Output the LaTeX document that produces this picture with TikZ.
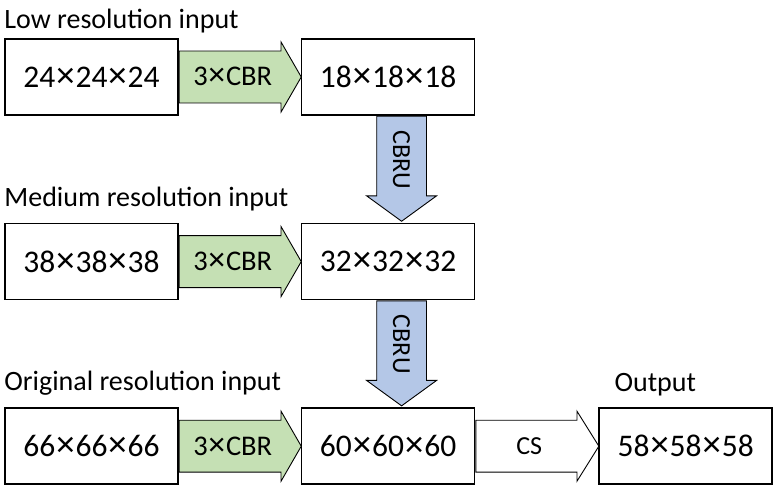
\documentclass[tikz,border=0pt]{standalone}
\usepackage{fontspec}
\setmainfont{Carlito}
\newfontfamily\crossfont[Scale=1.1]{Liberation Sans}
\newcommand\dimx{{\crossfont ×}}
\usetikzlibrary{positioning, shapes.arrows}
\definecolor{convgreen}{HTML}{C5E0B4}
\definecolor{upblue}{HTML}{B4C7E7}
\tikzset{
x=1pt, y=-1pt, % pixel-like units
every node/.style={inner sep=0pt},
block/.style={draw, line width=1.6pt, minimum width=173pt, minimum height=76pt, font=\fontsize{31.5}{36}\selectfont}, % the feature map boxes
caption/.style={anchor=base west, font=\fontsize{28}{32}\selectfont}, % the texts above the boxes
fatarrow/.style={single arrow, draw, line width=0.9pt, font=\fontsize{26}{30}\selectfont,
  text height=18pt, text depth=1pt, inner ysep=10.5pt, inner xsep=4pt,
  minimum width=70pt, single arrow head indent=0pt, anchor=tail},
convarrow/.style={fatarrow, fill=convgreen, minimum height=122pt, single arrow tip angle=120,
  font=\fontsize{28.5}{32}\selectfont, text height=20pt, text depth=2pt, inner ysep=9pt},
outarrow/.style={fatarrow, fill=white, minimum height=123pt, single arrow tip angle=116},
uparrow/.style={fatarrow, fill=upblue, rotate=-90, minimum height=105pt,
  inner ysep=7.5pt, single arrow tip angle=108},
}
\begin{document}
\begin{tikzpicture}
    \useasboundingbox (0,0) rectangle (775,486);
    % boxes
    \node[block] (low) at (91.5,77) {24\dimx24\dimx24};
    \node[block, right=122pt of low] (lowout) {18\dimx18\dimx18};
    \node[block, below=107pt of low] (mid) {38\dimx38\dimx38};
    \node[block, right=122pt of mid] (midout) {32\dimx32\dimx32};
    \node[block, below=107pt of mid] (orig) {66\dimx66\dimx66};
    \node[block, right=122pt of orig] (origout) {60\dimx60\dimx60};
    \node[block, right=123pt of origout] (final) {58\dimx58\dimx58};
    % captions
    \node[caption] (lowcap) at ([yshift=10pt]low.north west) {Low resolution input};
    \node[caption] (midcap) at ([yshift=16pt]mid.north west) {Medium resolution input};
    \node[caption] (origcap) at ([yshift=17pt]orig.north west) {Original resolution input};
    \node[caption] (finalcap) at ([xshift=16pt, yshift=16pt]final.north west) {Output};
    % arrows
    \node[convarrow] (lowconv) at (low.east) {3\dimx CBR};
    \node[convarrow] (midconv) at (mid.east) {3\dimx CBR};
    \node[convarrow] (origconv) at (orig.east) {3\dimx CBR};
    \node[uparrow] (lowup) at ([xshift=13.5pt]lowout.south) {CBRU};
    \node[uparrow] (midup) at ([xshift=13.5pt]midout.south) {CBRU};
    \node[outarrow] (cs) at (origout.east) {CS};
\end{tikzpicture}
\end{document}
